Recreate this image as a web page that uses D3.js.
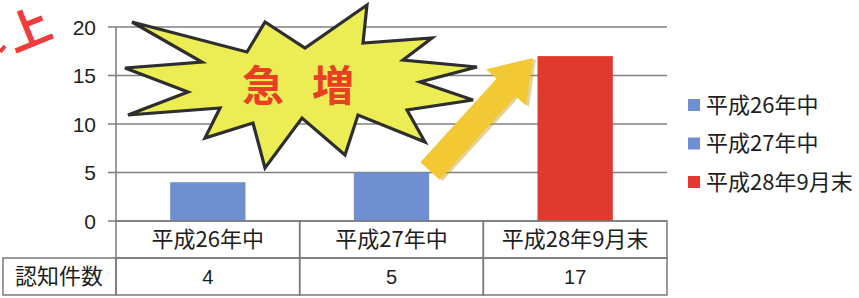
<!DOCTYPE html>
<html>
<head>
<meta charset="utf-8">
<script src="https://cdn.jsdelivr.net/npm/d3@7"></script>
<style>
  html, body { margin: 0; padding: 0; background: #fff; }
  svg { display: block; }
  text { font-family: "Noto Sans CJK JP", "Noto Sans", sans-serif; fill: #1e1e1e; }
</style>
</head>
<body>
<svg id="chart" width="859" height="298"></svg>
<script>
// --- data ---
const categories = ["平成26年中", "平成27年中", "平成28年9月末"];
const counts = [4, 5, 17];
const barColors = ["#6f8fd0", "#6f8fd0", "#e03a2e"];
const yTicks = [0, 5, 10, 15, 20];
const rowLabel = "認知件数";

const svg = d3.select("#chart");

// plot frame
const plotLeft = 116, plotRight = 667, plotTop = 27, plotBase = 221;
const rowH = 37;

const y = d3.scaleLinear().domain([0, 20]).range([plotBase, plotTop]);
const col = d3.scaleBand().domain(categories).range([plotLeft, plotRight]).padding(0);
const xBar = d3.scaleBand().domain(categories).range([plotLeft, plotRight])
  .paddingInner(0.59).paddingOuter(0.295);

// --- red corner note (rest of it is off the page) ---
svg.append("text")
  .attr("transform", "translate(55,36) rotate(-22)")
  .attr("text-anchor", "end")
  .style("font-size", "44px")
  .style("font-weight", "bold")
  .style("fill", "#f03c3c")
  .text("上");
svg.append("line")
  .attr("x1", 0).attr("y1", 52).attr("x2", 5).attr("y2", 46)
  .attr("stroke", "#f03c3c").attr("stroke-width", 4);

// gridlines + tick labels
svg.append("g").selectAll("line")
  .data(yTicks)
  .join("line")
  .attr("x1", plotLeft - 8).attr("x2", plotRight)
  .attr("y1", d => y(d)).attr("y2", d => y(d))
  .attr("stroke", "#808080").attr("stroke-width", 1.6);

svg.append("line")
  .attr("x1", plotLeft).attr("x2", plotLeft)
  .attr("y1", y(20)).attr("y2", plotBase)
  .attr("stroke", "#808080").attr("stroke-width", 1.6);

svg.append("g").selectAll("text")
  .data(yTicks)
  .join("text")
  .attr("x", 96)
  .attr("y", d => y(d))
  .attr("dy", "0.36em")
  .attr("text-anchor", "end")
  .style("font-family", "'Liberation Sans', Arial, sans-serif")
  .style("font-size", "21px")
  .text(d => d);

// bars
svg.append("g").selectAll("rect")
  .data(counts)
  .join("rect")
  .attr("x", (d, i) => xBar(categories[i]))
  .attr("y", d => y(d))
  .attr("width", xBar.bandwidth())
  .attr("height", d => plotBase - y(d))
  .attr("fill", (d, i) => barColors[i]);

// --- starburst callout ---
const burst = [[132,22],[247,52],[265,22],[305,48],[367,5],[363,43],[432,38],[403,60],
  [477,67],[420,82],[473,100],[407,110],[425,142],[358,115],[345,155],[302,118],
  [265,168],[253,123],[205,138],[220,108],[128,115],[188,92],[125,68],[202,62]];
svg.append("path")
  .attr("d", d3.line()(burst) + "Z")
  .attr("fill", "#ecec55")
  .attr("stroke", "#2e2e2e")
  .attr("stroke-width", 3.2)
  .attr("stroke-linejoin", "miter");

svg.append("g").selectAll("text")
  .data(["急", "増"])
  .join("text")
  .attr("x", (d, i) => 263 + i * 70)
  .attr("y", 86)
  .attr("dy", "0.36em")
  .attr("text-anchor", "middle")
  .style("font-size", "42px")
  .style("font-weight", "bold")
  .style("fill", "#ea3f25")
  .text(d => d);

// --- arrow ---
const tail = [430, 171], tip = [533, 58];
const len = Math.hypot(tip[0] - tail[0], tip[1] - tail[1]);
const ang = Math.atan2(tip[1] - tail[1], tip[0] - tail[0]) * 180 / Math.PI;
const headL = 40, headW = 27, shaftW = 13;
const arrowPts = [[0, -shaftW], [len - headL, -shaftW], [len - headL, -headW], [len, 0],
  [len - headL, headW], [len - headL, shaftW], [0, shaftW]];
const arrow = svg.append("g").attr("transform", `translate(${tail}) rotate(${ang})`);
arrow.append("path")
  .attr("d", d3.line()(arrowPts) + "Z")
  .attr("transform", "translate(1,3)")
  .attr("fill", "#c89a1c").attr("opacity", 0.45);
arrow.append("path")
  .attr("d", d3.line()(arrowPts) + "Z")
  .attr("fill", "#f2c934");

// --- data table ---
const table = svg.append("g");
const lineCol = "#7a7a7a";
// header row cells
table.selectAll("rect.head")
  .data(categories)
  .join("rect")
  .attr("class", "head")
  .attr("x", d => col(d)).attr("y", plotBase)
  .attr("width", col.bandwidth()).attr("height", rowH)
  .attr("fill", "none").attr("stroke", lineCol).attr("stroke-width", 1.5);
table.selectAll("text.head")
  .data(categories)
  .join("text")
  .attr("class", "head")
  .attr("x", d => col(d) + col.bandwidth() / 2)
  .attr("y", plotBase + rowH / 2)
  .attr("dy", "0.36em")
  .attr("text-anchor", "middle")
  .style("font-size", "22px")
  .text(d => d);
// value row
table.append("rect")
  .attr("x", 3).attr("y", plotBase + rowH)
  .attr("width", plotLeft - 3).attr("height", rowH)
  .attr("fill", "none").attr("stroke", lineCol).attr("stroke-width", 1.5);
table.append("text")
  .attr("x", 59).attr("y", plotBase + rowH * 1.5)
  .attr("dy", "0.36em")
  .attr("text-anchor", "middle")
  .style("font-size", "22px")
  .text(rowLabel);
table.selectAll("rect.val")
  .data(categories)
  .join("rect")
  .attr("class", "val")
  .attr("x", d => col(d)).attr("y", plotBase + rowH)
  .attr("width", col.bandwidth()).attr("height", rowH)
  .attr("fill", "none").attr("stroke", lineCol).attr("stroke-width", 1.5);
table.selectAll("text.val")
  .data(counts)
  .join("text")
  .attr("class", "val")
  .attr("x", (d, i) => col(categories[i]) + col.bandwidth() / 2)
  .attr("y", plotBase + rowH * 1.5)
  .attr("dy", "0.36em")
  .attr("text-anchor", "middle")
  .style("font-family", "'Liberation Sans', Arial, sans-serif")
  .style("font-size", "20px")
  .text(d => d);

// --- legend ---
const legend = svg.append("g").selectAll("g")
  .data(categories)
  .join("g")
  .attr("transform", (d, i) => `translate(688,${105 + i * 38.5})`);
legend.append("rect")
  .attr("x", 0).attr("y", -6)
  .attr("width", 12).attr("height", 12)
  .attr("fill", (d, i) => barColors[i]);
legend.append("text")
  .attr("x", 18).attr("y", 0)
  .attr("dy", "0.36em")
  .style("font-size", "22px")
  .text(d => d);
</script>
</body>
</html>
